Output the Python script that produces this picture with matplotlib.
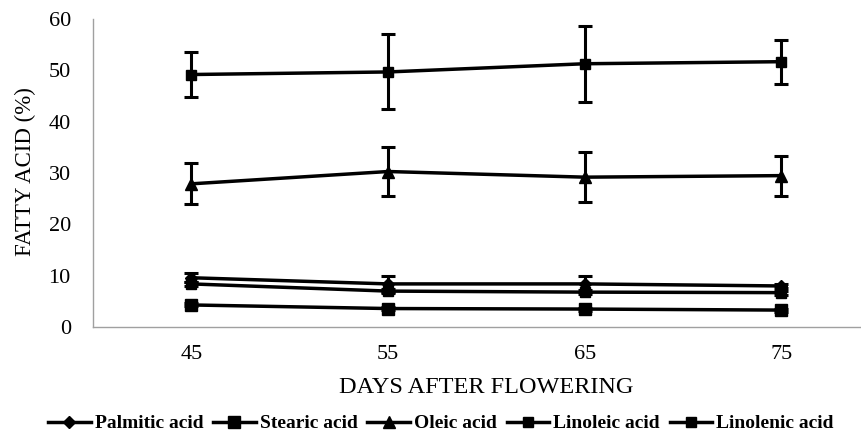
import matplotlib
matplotlib.use("Agg")
import matplotlib.pyplot as plt
from matplotlib.lines import Line2D

days = ["45", "55", "65", "75"]
palmitic = [9.6, 8.4, 8.4, 8.0]
palmitic_err = [0.9, 1.5, 1.5, 0.4]
stearic = [4.3, 3.6, 3.5, 3.3]
stearic_err = [0.3, 0.3, 0.3, 0.3]
oleic = [27.9, 30.3, 29.2, 29.5]
oleic_err = [4.0, 4.8, 4.9, 3.9]
linoleic = [49.2, 49.7, 51.3, 51.7]
linoleic_err = [4.4, 7.3, 7.4, 4.3]
linolenic = [8.4, 7.0, 6.8, 6.7]
linolenic_err = [0.4, 0.4, 0.4, 0.4]

plt.rcParams['font.family'] = ['Liberation Serif', 'DejaVu Serif']

fig = plt.figure(figsize=(8.61, 4.34), dpi=100)
ax = fig.add_axes([0.108, 0.2465, 0.892, 0.7095])

x = list(range(len(days)))
series = [
    ("Palmitic acid", palmitic, palmitic_err, "D", 6),
    ("Stearic acid", stearic, stearic_err, "s", 8),
    ("Oleic acid", oleic, oleic_err, "^", 8),
    ("Linoleic acid", linoleic, linoleic_err, "s", 7),
    ("Linolenic acid", linolenic, linolenic_err, "s", 7),
]
handles = []
for name, vals, errs, mk, ms in series:
    ax.errorbar(x, vals, yerr=errs, color="black", marker=mk, markersize=ms,
                linewidth=2.5, elinewidth=2.2, capsize=5, capthick=2.2)
    handles.append(Line2D([], [], color="black", marker=mk, markersize=ms,
                          linewidth=2.5, label=name))

ax.set_xlim(-0.5, -0.5 + (861 - 93) / 196.7)
ax.set_ylim(0, 60)
ax.set_yticks([0, 10, 20, 30, 40, 50, 60])
ax.set_xticks(x)
ax.set_xticklabels(days)
ax.tick_params(axis="both", length=0, labelsize=16)
ax.tick_params(axis="x", pad=13)
ax.tick_params(axis="y", pad=16)
for s in ["top", "right"]:
    ax.spines[s].set_visible(False)
for s in ["left", "bottom"]:
    ax.spines[s].set_color("#a0a0a0")
    ax.spines[s].set_linewidth(1.0)

fig.text(0.565, 0.106, "DAYS AFTER FLOWERING", ha="center", va="center", fontsize=17.5)
fig.text(0.03, 0.604, "FATTY ACID (%)", ha="center", va="center", fontsize=16.5, rotation=90)

fig.legend(handles=handles, loc="center", bbox_to_anchor=(0.512, 0.024), ncol=5,
           frameon=False, prop={"weight": "bold", "size": 14}, handlelength=2.2,
           handletextpad=0.2, columnspacing=0.5, borderaxespad=0, borderpad=0)

fig.savefig("out.png", dpi=100)
